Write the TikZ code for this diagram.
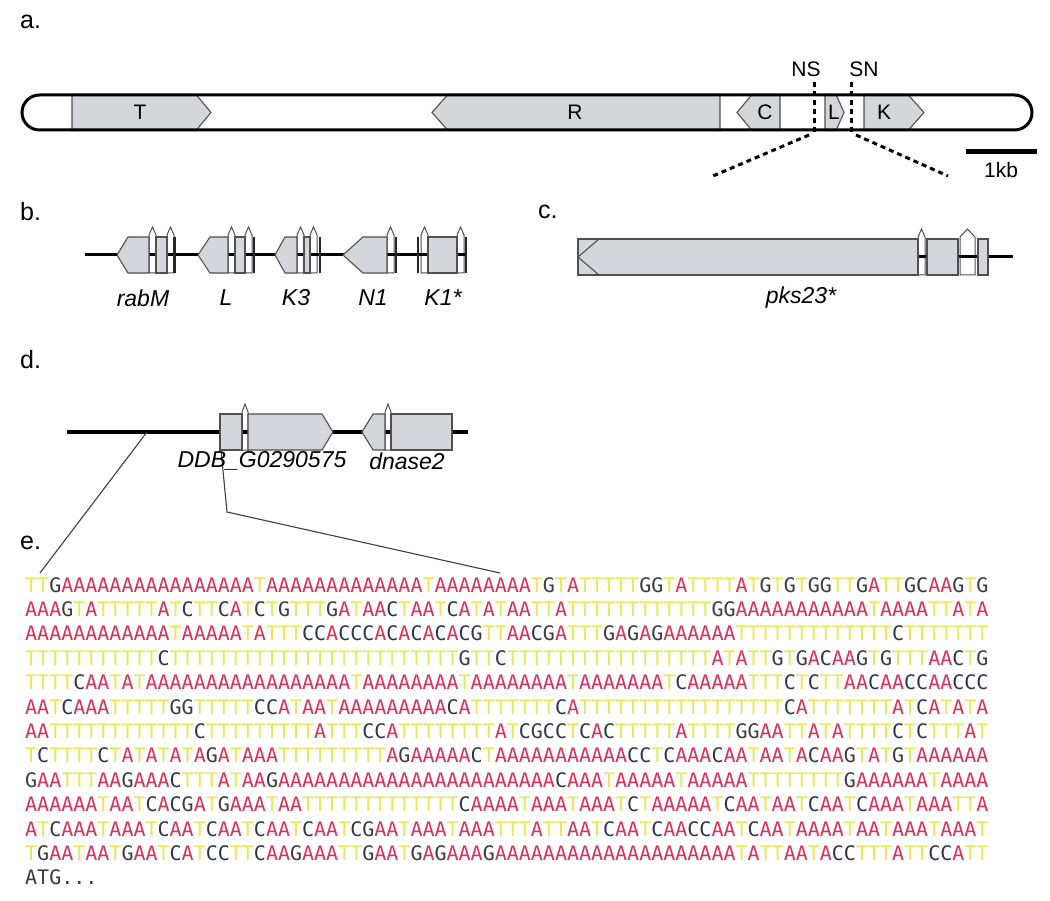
\documentclass[tikz,border=0pt]{standalone}
\usepackage{fontspec}
\setmainfont{Liberation Sans}
\newfontfamily\seqfont{DejaVu Sans Mono}

\definecolor{exongray}{RGB}{211,214,219}
\definecolor{edgegray}{RGB}{80,80,84}
\definecolor{baseA}{RGB}{214,52,92}
\definecolor{baseT}{RGB}{234,232,86}
\definecolor{baseC}{RGB}{44,52,72}
\definecolor{baseG}{RGB}{58,58,64}

% one coloured letter per base
\newcommand\dnaline[1]{\dnaparse#1\relax}
\def\dnaparse#1{\ifx#1\relax\else\dnabase#1\expandafter\dnaparse\fi}
\def\dnabase#1{\if#1A\textcolor{baseA}{A}\else\if#1T\textcolor{baseT}{T}\else
  \if#1C\textcolor{baseC}{C}\else\textcolor{baseG}{#1}\fi\fi\fi}

\tikzset{
  panel/.style={anchor=west, inner sep=0pt, font=\fontsize{25}{25}\selectfont},
  genetag/.style={inner sep=0pt, font=\fontsize{21}{21}\selectfont},
  genename/.style={inner sep=0pt, font=\fontsize{23}{23}\selectfont\itshape},
  exon/.style={fill=exongray, draw=edgegray, line width=1.1pt},
  intron/.style={fill=white, draw=edgegray, line width=1pt},
  backbone/.style={line width=3pt},
  cutline/.style={line width=3pt, dash pattern=on 5pt off 4pt},
  zoomline/.style={draw=black!75, line width=1.1pt},
  seqrow/.style={anchor=base west, inner sep=0pt, font=\seqfont\fontsize{20}{20}\selectfont},
}

% shapes: tip/ends in x, line height y
\newcommand\geneleft[4]{\draw[exon] (#1,#4) -- (#2,#4-18) -- (#3,#4-18) -- (#3,#4+18) -- (#2,#4+18) -- cycle;}
\newcommand\generight[4]{\draw[exon] (#1,#4-18) -- (#2,#4-18) -- (#3,#4) -- (#2,#4+18) -- (#1,#4+18) -- cycle;}
\newcommand\exonbox[3]{\draw[exon] (#1,#3-18) rectangle (#2,#3+18);}
\newcommand\intronmark[3]{\draw[intron] (#1,#3+18) -- (#1,#3-20) -- (#1+#2/2,#3-28) -- (#1+#2,#3-20) -- (#1+#2,#3+18) -- cycle;}
\newcommand\spacerbar[2]{\fill[black!85] (#1-1.4,#2-18) rectangle (#1+1.4,#2+18);}

\begin{document}
\begin{tikzpicture}[x=1pt, y=-1pt]
  \useasboundingbox (0,0) rectangle (1050,901);
  \fill[white] (0,0) rectangle (1050,901);

  % a.
  \node[panel] (pa) at (20,22) {a.};
  \generight{72}{196}{211}{112.5}
  \geneleft{432}{448}{720}{112.5}
  \geneleft{737}{752}{780}{112.5}
  \generight{825}{836}{844}{112.5}
  \generight{864}{908}{924}{112.5}
  \draw[line width=3pt, rounded corners=17.5pt] (22,95) rectangle (1032,130);
  \node[genetag] (tagT) at (140,112.5) {T};
  \node[genetag] (tagR) at (575,112.5) {R};
  \node[genetag] (tagC) at (765,112.5) {C};
  \node[genetag] (tagL) at (834,112.5) {L};
  \node[genetag] (tagK) at (884,112.5) {K};
  \node[genetag] (ns) at (806,69) {NS};
  \node[genetag] (sn) at (864,69) {SN};
  \coordinate (nsfoot) at (814,132);
  \coordinate (snfoot) at (851,132);
  \draw[cutline] (814,82) -- (nsfoot);
  \draw[cutline] (851,82) -- (snfoot);
  \draw[cutline] (809,135) -- (713,176);
  \draw[cutline] (856,135) -- (948,176);
  \draw[line width=5pt] (966,152) -- (1037,152);
  \node[genetag] (kb) at (1001,170) {1kb};

  % b.
  \node[panel] (pb) at (20,212) {b.};
  \foreach \x in {149,167,228,245,297,310,387,421,457}
    \intronmark{\x}{7}{255}
  \draw[backbone] (85,255) -- (467,255);
  \geneleft{117}{128}{149}{255}
  \exonbox{156}{167}{255}
  \spacerbar{174.5}{255}
  \geneleft{198}{210}{228}{255}
  \exonbox{235}{245}{255}
  \spacerbar{254}{255}
  \geneleft{275}{285}{297}{255}
  \exonbox{304}{310}{255}
  \spacerbar{320}{255}
  \geneleft{343}{363}{387}{255}
  \spacerbar{396}{255}
  \spacerbar{418}{255}
  \exonbox{428}{457}{255}
  \spacerbar{466}{255}
  \node[genename] (rabM) at (143,298) {rabM};
  \node[genename] (geneL) at (226,298) {L};
  \node[genename] (K3) at (296,298) {K3};
  \node[genename] (N1) at (373,298) {N1};
  \node[genename] (K1) at (443,298) {K1*};

  % c.
  \node[panel] (pc) at (538,212) {c.};
  \intronmark{918}{7}{257}
  \draw[intron] (960,275) -- (960,237) -- (967.5,229) -- (975,237) -- (975,275) -- cycle;
  \draw[backbone] (578,257) -- (1013,257);
  \exonbox{578}{918}{257}
  \draw[edgegray, line width=1.1pt] (599,239) -- (578,257) -- (599,275);
  \exonbox{927}{958}{257}
  \exonbox{978}{988}{257}
  \node[genename] (pks) at (801,298) {pks23*};

  % d.
  \node[panel] (pd) at (20,360) {d.};
  \intronmark{242}{6}{432}
  \intronmark{385}{6}{432}
  \draw[backbone, line width=3.4pt] (67,432) -- (468,432);
  \exonbox{220}{242}{432}
  \generight{248}{322}{333}{432}
  \geneleft{362}{373}{385}{432}
  \exonbox{391}{452}{432}
  \coordinate (dsplit) at (147,432);
  \coordinate (dstart) at (221,450);
  \coordinate (dbend) at (227,512);
  \coordinate (eleft) at (40,573);
  \coordinate (eright) at (500,573);
  \draw[zoomline] (dsplit) -- (eleft);
  \draw[zoomline] (dstart) -- (dbend) -- (eright);
  \node[genename] (ddb) at (262,461) {DDB\_G0290575};
  \node[genename] (dnase) at (407,461) {dnase2};

  % e.
  \node[panel] (pe) at (20,543) {e.};
  \node[seqrow] (row1) at (25,592) {\dnaline{TTG AAAA AAAA AAAA AAAA T AAAA AAAA AAAA A T AAAA AAAA TGTA TTTTT GG TA TTTT ATGTGT GG TT GA TT GCAAG TG}};
  \node[seqrow] (row2) at (25,616.4) {\dnaline{AAAG T A TTTTT A T C TT CA T C T G TTT GA T AAC T AA T CA T A T AA TT A TTTTTTTTTTTT GG AAAA AAAA AAA T AAAA TT ATA}};
  \node[seqrow] (row3) at (25,640.8) {\dnaline{AAAA AAAA AAAA T AAAAA T A TTT CCACCCACACACACG TT AACGA TTT GAGAGAAAAAA TTTTTTTTTTTTT C TTTTTTT}};
  \node[seqrow] (row4) at (25,665.2) {\dnaline{TTTTTTTTTTT C TTTTTTTTTTTTTTTTTTTTTTTT G TT C TTTTTTTTTTTTTTTTT ATA TT GT GACAAG TG TTT AAC TG}};
  \node[seqrow] (row5) at (25,689.6) {\dnaline{TTTT CAA T A T AAAA AAAA AAAA AAAA A T AAAA AAAA T AAAA AAAA T AAAA AAA T CAAAAA TTT C T C TT AACAACCAACCC}};
  \node[seqrow] (row6) at (25,714) {\dnaline{AA T CAAA TTTTT GG TTTTT CCA T AA T AAAA AAAA A CA TTTTTTT CA TTTTTTTTTTTTTTTTT CA TTTTTTT ATCATATA}};
  \node[seqrow] (row7) at (25,738.4) {\dnaline{AA TTTTTTTTTTTT C TTTTTTTTT A TTT CCA TTTTTTTT A T CGCC T CAC TTTTT A TTTT GGAA TT A T A TTTT C T C TTT A T}};
  \node[seqrow] (row8) at (25,762.8) {\dnaline{T C TTTT C T A T A T A T AGA T AAA TTTTTTTTT AGAAAAACT AAAA AAAA AAA CC T CAAACAA T AA T ACAAG T A T G T AAAAAA}};
  \node[seqrow] (row9) at (25,787.2) {\dnaline{GAA TTT AAGAAAC TTT A T AAG AAAA AAAA AAAA AAAA AAAA AAA C AAA T AAAAA T AAAAA TTTTTTTT GAAAAAA T AAAA}};
  \node[seqrow] (row10) at (25,811.6) {\dnaline{AAAAAA T AA T CACGA T GAAA T AA TTTTTTTTTTTTT CAAAA T AAA T AAA T C T AAAAA T CAA T AA T CAA T CAAA T AAA TTA}};
  \node[seqrow] (row11) at (25,836) {\dnaline{A T CAAA T AAA T CAA T CAA T CAA T CAA T CGAA T AAA T AAA TTT A TT AA T CAA T CAACCAA T CAA T AAAA T AA T AAA T AAA T}};
  \node[seqrow] (row12) at (25,860.4) {\dnaline{T GAA T AA T GAA T CA T CC TT CAAGAAA T T GAA T GAGAAAG AAAA AAAA AAAA AAAA AAAA T A TT AAT ACC TTT A TT CCA TT}};
  \node[seqrow, text=baseG] (row13) at (25,884.8) {ATG...};
\end{tikzpicture}
\end{document}
